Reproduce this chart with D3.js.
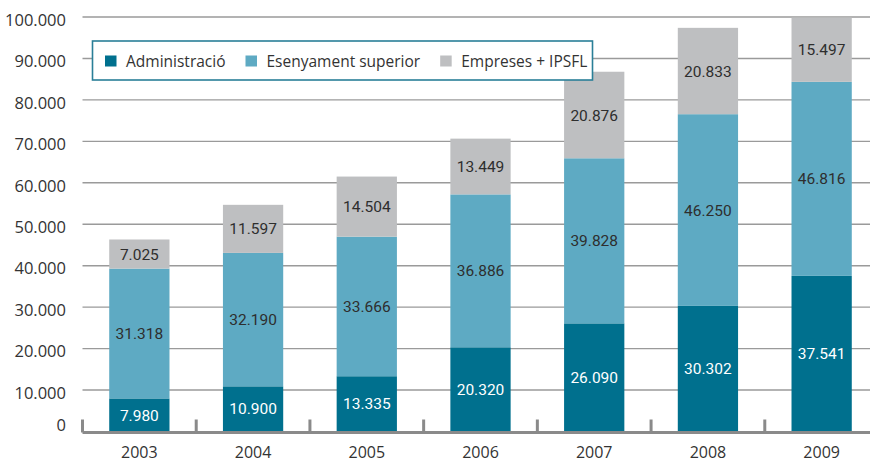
<!DOCTYPE html>
<html>
<head>
<meta charset="utf-8">
<script src="https://cdn.jsdelivr.net/npm/d3@7/dist/d3.min.js"></script>
<style>
  html, body { margin: 0; padding: 0; background: #fff; }
  svg { display: block; }
</style>
</head>
<body>
<svg id="chart" width="870" height="462"></svg>
<script>
// ---- Data ----
const years = ["2003", "2004", "2005", "2006", "2007", "2008", "2009"];
const seriesNames = ["Administració", "Esenyament superior", "Empreses + IPSFL"];
const administracio = [7980, 10900, 13335, 20320, 26090, 30302, 37541];
const ensenyament = [31318, 32190, 33666, 36886, 39828, 46250, 46816];
const empreses = [7025, 11597, 14504, 13449, 20876, 20833, 15497];
const yTicks = [0, 10000, 20000, 30000, 40000, 50000, 60000, 70000, 80000, 90000, 100000];

// ---- Style ----
const colors = ["#00708e", "#5eaac3", "#bebfc1"];
const labelColors = ["#ffffff", "#2e2e2e", "#2e2e2e"];

(function () {
const svg = d3.select("#chart");
const plotLeft = 82.5, plotRight = 878.5, plotTop = 17, plotBottom = 431.5;

const locale = d3.formatLocale({decimal: ",", thousands: ".", grouping: [3], currency: ["", ""]});
const fmt = locale.format(",");

const x = d3.scaleBand().domain(years).range([plotLeft, plotRight]).paddingInner(0.47).paddingOuter(0.235);
const y = d3.scaleLinear().domain([0, 100000]).range([plotBottom, plotTop]);
const step = x.step();

// gridlines
svg.append("g").selectAll("line").data(yTicks.filter(d => d > 0)).join("line")
  .attr("x1", plotLeft).attr("x2", 870)
  .attr("y1", d => y(d)).attr("y2", d => y(d))
  .attr("stroke", "#9a9a9a").attr("stroke-width", 1.4);

// y labels
const yAxis = svg.append("g").attr("transform", "translate(66,0)")
  .call(d3.axisLeft(y).tickValues(yTicks).tickFormat(fmt).tickSize(0).tickPadding(0));
yAxis.select(".domain").remove();
yAxis.selectAll("text")
  .attr("font-family", "'Open Sans', sans-serif").attr("font-size", 16.5)
  .attr("fill", "#333")
  .attr("dy", d => d === 0 ? "-0.05em" : "0.5em");

// stack
const rows = years.map((yr, i) => ({year: yr, a: administracio[i], b: ensenyament[i], c: empreses[i]}));
const stack = d3.stack().keys(["a", "b", "c"])(rows);

const groups = svg.append("g").selectAll("g").data(stack).join("g")
  .attr("fill", (d, i) => colors[i]);
groups.selectAll("rect").data(d => d).join("rect")
  .attr("x", d => x(d.data.year))
  .attr("width", x.bandwidth())
  .attr("y", d => y(d[1]))
  .attr("height", d => y(d[0]) - y(d[1]));

// value labels
const lg = svg.append("g");
stack.forEach((s, si) => {
  lg.append("g").selectAll("text").data(s).join("text")
    .attr("x", d => x(d.data.year) + x.bandwidth() / 2)
    .attr("y", d => (y(d[0]) + y(d[1])) / 2)
    .attr("dy", "0.36em")
    .attr("text-anchor", "middle")
    .attr("font-family", "Roboto, sans-serif").attr("font-size", 15.5)
    .attr("fill", labelColors[si])
    .text(d => fmt(d[1] - d[0]));
});

// baseline and separator ticks
svg.append("line").attr("x1", plotLeft).attr("x2", 870)
  .attr("y1", plotBottom + 1).attr("y2", plotBottom + 1)
  .attr("stroke", "#8a8a8a").attr("stroke-width", 3);
svg.append("g").selectAll("line").data(years).join("line")
  .attr("x1", (d, i) => plotLeft + i * step).attr("x2", (d, i) => plotLeft + i * step)
  .attr("y1", plotBottom - 12).attr("y2", plotBottom + 1)
  .attr("stroke", "#8a8a8a").attr("stroke-width", 3);

// x labels
const xAxis = svg.append("g").attr("transform", `translate(0,${plotBottom})`)
  .call(d3.axisBottom(x).tickSize(0).tickPadding(15));
xAxis.select(".domain").remove();
xAxis.selectAll("text")
  .attr("font-family", "'Open Sans', sans-serif").attr("font-size", 16)
  .attr("fill", "#333");

// legend
const legend = svg.append("g");
legend.append("rect")
  .attr("x", 92.5).attr("y", 41).attr("width", 500).attr("height", 39)
  .attr("fill", "#fff").attr("stroke", "#2a7f98").attr("stroke-width", 1.6);
let lx = 105;
seriesNames.forEach((name, i) => {
  legend.append("rect").attr("x", lx).attr("y", 55.5).attr("width", 11.5).attr("height", 11)
    .attr("fill", colors[i]);
  const t = legend.append("text").attr("x", lx + 21).attr("y", 61).attr("dy", "0.36em")
    .attr("font-family", "'Open Sans', sans-serif").attr("font-size", 15.5)
    .attr("fill", "#333").text(name);
  lx += 21 + t.node().getComputedTextLength() + 20;
});
})();
</script>
</body>
</html>
